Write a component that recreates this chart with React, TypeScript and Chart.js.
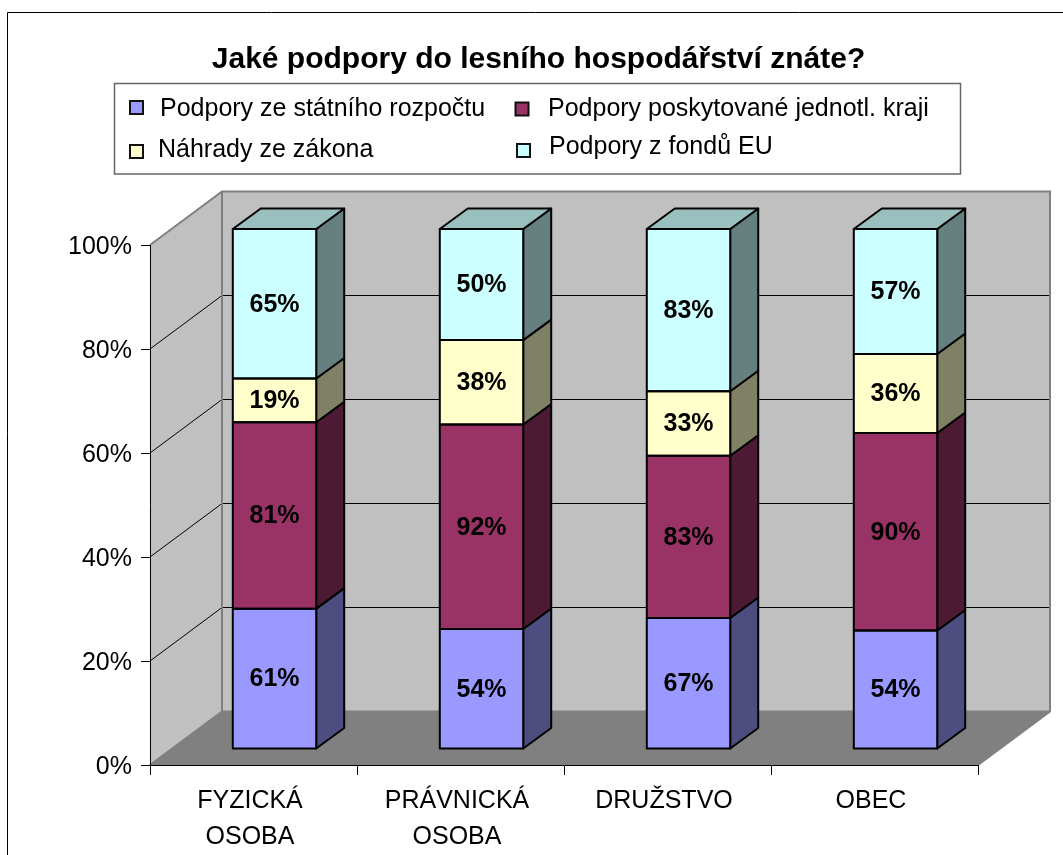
import React, { useEffect, useRef } from "react";
import { Chart, registerables } from "chart.js";

Chart.register(...registerables);

const FONT = "'Liberation Sans', Arial, sans-serif";

const categories = [["FYZICKÁ", "OSOBA"], ["PRÁVNICKÁ", "OSOBA"], "DRUŽSTVO", "OBEC"];
const seriesNames = [
  "Podpory ze státního rozpočtu",
  "Podpory poskytované jednotl. kraji",
  "Náhrady ze zákona",
  "Podpory z fondů EU",
];
const statniRozpocet = [61, 54, 67, 54];
const kraje = [81, 92, 83, 90];
const nahrady = [19, 38, 33, 36];
const fondyEU = [65, 50, 83, 57];
const seriesValues = [statniRozpocet, kraje, nahrady, fondyEU];
const faceColors = ["#9999FF", "#993366", "#FFFFCC", "#CCFFFF"];
const sideColors = ["#4D4D80", "#4D1A33", "#808066", "#668080"];
const topColors = ["#7373BF", "#73264D", "#BFBF99", "#99BFBF"];

const totals = categories.map((_, i) => seriesValues.reduce((s, v) => s + v[i], 0));

const legendLayout = [
  { box: [130, 101], text: [160, 109] },
  { box: [515.5, 102.5], text: [548, 109] },
  { box: [130, 145], text: [158, 150] },
  { box: [517, 144], text: [549, 147] },
];

const WALL_DX = 72;
const WALL_DY = -53.5;
const BAR_DX = 21;
const BAR_DY = -16;
const BAR_DEPTH_X = 28;
const BAR_DEPTH_Y = -20.5;

function poly(ctx: CanvasRenderingContext2D, pts: number[][], fill: string | null, stroke?: string, lw = 1) {
  ctx.beginPath();
  pts.forEach((p, i) => (i ? ctx.lineTo(p[0], p[1]) : ctx.moveTo(p[0], p[1])));
  ctx.closePath();
  if (fill) {
    ctx.fillStyle = fill;
    ctx.fill();
  }
  if (stroke) {
    ctx.strokeStyle = stroke;
    ctx.lineWidth = lw;
    ctx.lineJoin = "round";
    ctx.stroke();
  }
}

const scene3d = {
  id: "scene3d",
  afterLayout(chart: any) {
    // tick labels are clipped to the axis box: widen it leftwards
    chart.scales.y.left = 20;
  },
  beforeDraw(chart: any) {
    const { ctx, chartArea: a, scales } = chart;
    const { left, right, top, bottom } = a;
    ctx.save();
    // outer frame, cropped by the page on the right and at the bottom
    ctx.strokeStyle = "#000";
    ctx.lineWidth = 1;
    ctx.beginPath();
    ctx.moveTo(7.5, chart.height);
    ctx.lineTo(7.5, 12.5);
    ctx.lineTo(chart.width, 12.5);
    ctx.stroke();

    // legend frame and entries
    ctx.strokeStyle = "#666";
    ctx.lineWidth = 1.5;
    ctx.strokeRect(114.5, 83.5, 846, 90.5);
    ctx.font = `25px ${FONT}`;
    ctx.textBaseline = "middle";
    ctx.textAlign = "left";
    seriesNames.forEach((name, i) => {
      const l = legendLayout[i];
      ctx.fillStyle = faceColors[i];
      ctx.fillRect(l.box[0], l.box[1], 13, 13);
      ctx.strokeStyle = "#111";
      ctx.lineWidth = 2;
      ctx.strokeRect(l.box[0], l.box[1], 13, 13);
      ctx.fillStyle = "#000";
      ctx.fillText(name, l.text[0], l.text[1]);
    });

    // walls and floor
    const wl = left + WALL_DX;
    const wr = right + WALL_DX;
    const wt = top + WALL_DY;
    const wb = bottom + WALL_DY;
    poly(ctx, [[wl, wt], [wr, wt], [wr, wb], [wl, wb]], "#C0C0C0");
    poly(ctx, [[left, top], [wl, wt], [wl, wb], [left, bottom]], "#C0C0C0");
    poly(ctx, [[left, bottom], [wl, wb], [wr, wb], [right, bottom]], "#808080");

    // gridlines
    const y = scales.y;
    y.ticks.forEach((t: any) => {
      if (t.value === 0 || t.value === 100) return;
      const p = y.getPixelForValue(t.value);
      ctx.strokeStyle = "#000";
      ctx.lineWidth = 1;
      ctx.beginPath();
      ctx.moveTo(left, p);
      ctx.lineTo(wl, p + WALL_DY);
      ctx.lineTo(wr, p + WALL_DY);
      ctx.stroke();
    });

    // wall outlines
    ctx.strokeStyle = "#808080";
    ctx.lineWidth = 2;
    ctx.beginPath();
    ctx.moveTo(left, top);
    ctx.lineTo(wl, wt);
    ctx.lineTo(wr, wt);
    ctx.lineTo(wr, wb);
    ctx.lineTo(right, bottom);
    ctx.moveTo(wl, wt);
    ctx.lineTo(wl, wb);
    ctx.lineTo(wr, wb);
    ctx.moveTo(wl, wb);
    ctx.lineTo(left, bottom);
    ctx.stroke();
    ctx.restore();
  },
  beforeDatasetsDraw(chart: any) {
    const { ctx } = chart;
    ctx.save();
    ctx.translate(BAR_DX, BAR_DY);
    const dx = BAR_DEPTH_X;
    const dy = BAR_DEPTH_Y;
    chart.data.datasets.forEach((_: any, di: number) => {
      chart.getDatasetMeta(di).data.forEach((bar: any) => {
        const r = bar.x + bar.width / 2;
        const l = bar.x - bar.width / 2;
        poly(ctx, [[r, bar.y], [r + dx, bar.y + dy], [r + dx, bar.base + dy], [r, bar.base]], sideColors[di], "#000", 2);
        if (di === chart.data.datasets.length - 1) {
          poly(ctx, [[l, bar.y], [l + dx, bar.y + dy], [r + dx, bar.y + dy], [r, bar.y]], topColors[di], "#000", 2);
        }
      });
    });
  },
  afterDatasetsDraw(chart: any) {
    const { ctx } = chart;
    ctx.font = `bold 25px ${FONT}`;
    ctx.textAlign = "center";
    ctx.textBaseline = "middle";
    seriesValues.forEach((vals, di) => {
      chart.getDatasetMeta(di).data.forEach((bar: any, i: number) => {
        ctx.strokeStyle = "#000";
        ctx.lineWidth = 2;
        ctx.strokeRect(bar.x - bar.width / 2, bar.y, bar.width, bar.base - bar.y);
        ctx.fillStyle = "#000";
        ctx.fillText(`${vals[i]}%`, bar.x, (bar.y + bar.base) / 2 + 1);
      });
    });
    ctx.restore();
  },
};

export default function App() {
  const ref = useRef<HTMLCanvasElement>(null);
  useEffect(() => {
    const chart = new Chart(ref.current as HTMLCanvasElement, {
      type: "bar",
      data: {
        labels: categories as any,
        datasets: seriesNames.map((label, di) => ({
          label,
          data: seriesValues[di].map((v, i) => (v / totals[i]) * 100),
          backgroundColor: faceColors[di],
          borderWidth: 0,
          inflateAmount: 0,
          clip: false,
          barPercentage: 0.403,
          categoryPercentage: 1,
        })) as any,
      },
      options: {
        responsive: false,
        animation: false,
        layout: { padding: { left: 99, right: 85, top: 0, bottom: 0 } },
        plugins: {
          legend: { display: false },
          tooltip: { enabled: false },
          title: {
            display: true,
            text: "Jaké podpory do lesního hospodářství znáte?",
            color: "#000",
            font: { family: FONT, size: 30, weight: "bold", lineHeight: 1.2 },
            padding: { top: 42, bottom: 167 },
          },
        },
        scales: {
          x: {
            stacked: true,
            grid: { drawOnChartArea: false, drawTicks: true, tickLength: 10, color: "#000", offset: true },
            border: { display: true, color: "#000", width: 1 },
            ticks: {
              color: "#000",
              padding: 8,
              labelOffset: -3.5,
              maxRotation: 0,
              autoSkip: false,
              font: { family: FONT, size: 25, lineHeight: 1.44 },
            },
            afterFit(scale: any) {
              scale.height = 90;
            },
          },
          y: {
            stacked: true,
            min: 0,
            max: 100,
            grid: { drawOnChartArea: false, drawTicks: true, tickLength: 9, color: "#000" },
            border: { display: true, color: "#000", width: 1 },
            ticks: {
              stepSize: 20,
              color: "#000",
              padding: 9,
              labelOffset: 2,
              font: { family: FONT, size: 25 },
              callback: (v: any) => `${v}%`,
            },
            afterFit(scale: any) {
              scale.width = 51;
            },
          },
        },
      } as any,
      plugins: [scene3d],
    });
    return () => chart.destroy();
  }, []);
  return (
    <canvas
      ref={ref}
      width={1063}
      height={855}
      style={{ position: "absolute", left: 0, top: 0, display: "block" }}
    />
  );
}
